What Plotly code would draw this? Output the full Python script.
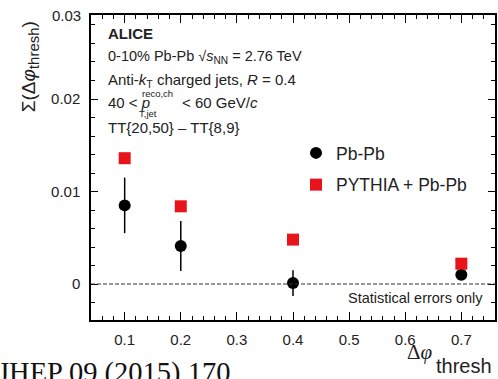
import plotly.graph_objects as go

# ---- data ----
dphi = [0.1, 0.2, 0.4, 0.7]
pbpb = [0.0085, 0.0041, 0.0001, 0.0010]
pbpb_err = [0.0030, 0.0027, 0.0014, 0.0003]
pythia = [0.0136, 0.0084, 0.0048, 0.0022]
xticks = [0.1, 0.2, 0.3, 0.4, 0.5, 0.6, 0.7]
yticks = [0.0, 0.01, 0.02]

W, H = 498, 379
L, R, T, B = 91, 497, 15, 320  # plot area in px


def px(x):
    return (x - L) / (R - L)


def py(y):
    return (B - y) / (B - T)


TXT = "#222222"
FONT = "Liberation Sans, Arial, sans-serif"

fig = go.Figure()
fig.add_trace(go.Scatter(
    x=dphi, y=pbpb, mode="markers", name="Pb-Pb",
    marker=dict(symbol="circle", size=12, color="black"),
    error_y=dict(type="data", array=pbpb_err, color="black", thickness=1.5, width=0),
    legendgroup="a",
))
fig.add_trace(go.Scatter(
    x=dphi, y=pythia, mode="markers", name="PYTHIA + Pb-Pb",
    marker=dict(symbol="square", size=12, color="#e8141c"),
    legendgroup="b",
))

fig.add_hline(y=0, line=dict(color="#333333", width=1, dash="4px,2px"))

ann = []


def text(x, y, s, size=15, xanchor="left", yanchor="middle", **kw):
    ann.append(dict(x=px(x), y=py(y), xref="paper", yref="paper", text=s,
                    showarrow=False, xanchor=xanchor, yanchor=yanchor,
                    font=dict(size=size, color=kw.pop("color", TXT), family=kw.pop("family", FONT)),
                    **kw))


text(106, 33, "<b>ALICE</b>", size=15)
text(106, 57, "0-10% Pb-Pb √<i>s</i><sub>NN</sub> = 2.76 TeV", size=14.5)
text(106, 80, "Anti-<i>k</i><sub>T</sub> charged jets, <i>R</i> = 0.4")
text(106, 103, "40 < <i>p</i>")
text(140, 93, "reco,ch", size=9.5)
text(137, 113, "T,jet", size=9.5)
text(180, 103, "< 60 GeV/<i>c</i>")
text(106, 127, "TT{20,50} – TT{8,9}")
text(487, 298, "Statistical errors only", size=14.5, xanchor="right")
text(83, 15, "0.03", size=15, xanchor="right")

# y-axis title
ann.append(dict(x=px(30), y=py(67), xref="paper", yref="paper",
                text="Σ(Δ<i>φ</i><sub><span style='font-size:15px'>thresh</span></sub>)",
                textangle=-90, showarrow=False, xanchor="center", yanchor="middle",
                font=dict(size=19, color=TXT, family=FONT)))
# x-axis title
text(437, 352, "Δ<i>φ</i>", size=21, xanchor="right", family="Liberation Serif, serif")
text(436, 366, "thresh", size=20)

# citation at bottom
text(-4, 373, "JHEP 09 (2015) 170", size=28.5, color="#111111",
     family="Liberation Serif, Times New Roman, serif")

fig.update_layout(
    width=W, height=H,
    margin=dict(l=L, r=W - R, t=T, b=H - B, pad=0),
    paper_bgcolor="white", plot_bgcolor="white",
    showlegend=True,
    legend=dict(x=px(297), y=py(135), xanchor="left", yanchor="top",
                font=dict(size=17.5, color=TXT, family=FONT),
                bgcolor="rgba(0,0,0,0)", tracegroupgap=6, traceorder="grouped",
                itemsizing="trace"),
    annotations=ann,
    font=dict(family=FONT, color=TXT),
)
fig.update_xaxes(
    range=[0.04, 0.76], tickvals=xticks, ticktext=[f"{v:.1f}" for v in xticks],
    showgrid=False, zeroline=False, showline=True, linecolor="black", linewidth=1.5,
    mirror="ticks", ticks="inside", ticklen=8, tickwidth=1.2, tickcolor="black",
    minor=dict(dtick=0.02, tick0=0, ticks="inside", ticklen=4, tickwidth=1, tickcolor="black"),
    tickfont=dict(size=15, color=TXT, family=FONT), ticklabelstandoff=5,
)
fig.update_yaxes(
    range=[-0.00389, 0.02908], tickvals=yticks, ticktext=["0", "0.01", "0.02"],
    showgrid=False, zeroline=False, showline=True, linecolor="black", linewidth=1.5,
    mirror="ticks", ticks="inside", ticklen=7, tickwidth=1.2, tickcolor="black",
    minor=dict(dtick=0.002, tick0=0, ticks="inside", ticklen=4, tickwidth=1, tickcolor="black"),
    tickfont=dict(size=15, color=TXT, family=FONT), ticklabelstandoff=6,
)

fig.write_html("out.html")
